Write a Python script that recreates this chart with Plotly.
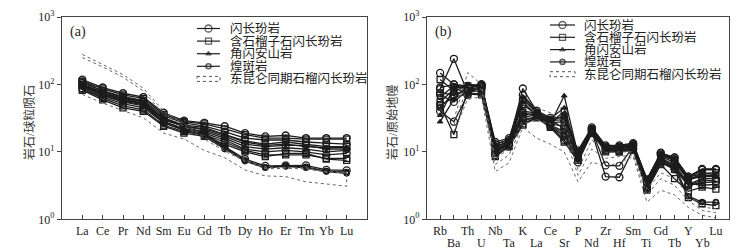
import plotly.graph_objects as go

# ---------------- data ----------------
REE = ["La", "Ce", "Pr", "Nd", "Sm", "Eu", "Gd", "Tb", "Dy", "Ho", "Er", "Tm", "Yb", "Lu"]
SPIDER = ["Rb", "Ba", "Th", "U", "Nb", "Ta", "K", "La", "Ce", "Sr", "P", "Nd",
          "Zr", "Hf", "Sm", "Ti", "Gd", "Tb", "Y", "Yb", "Lu"]

GROUPS = ["闪长玢岩", "含石榴子石闪长玢岩", "角闪安山岩", "煌斑岩"]
FIELD_NAME = "东昆仑同期石榴闪长玢岩"
YTITLE_A = "岩石/球粒陨石"
YTITLE_B = "岩石/原始地幔"

# (a) chondrite-normalised REE
REE_G1 = [
    [118, 90, 74, 65, 38, 29, 27, 24, 19, 17, 17.5, 16, 16, 16],
    [105, 80, 66, 58, 34, 27, 24, 20, 16, 15, 15, 14, 13.5, 13],
    [95, 72, 58, 52, 30, 24, 21, 17, 13, 12, 12.5, 12.5, 11, 11],
    [88, 65, 52, 45, 27, 21, 19, 15, 11, 10, 10.5, 10, 9, 9.5],
    [110, 80, 64, 56, 30, 24, 19, 12, 7.8, 6.2, 6.3, 6.3, 5.4, 5.3],
]
REE_G2 = [
    [112, 86, 70, 62, 36, 28, 26, 22, 18, 16, 16, 15.5, 15.5, 15.5],
    [100, 76, 62, 55, 32, 25, 23, 18, 14.5, 13, 14, 13, 12, 12],
    [85, 62, 48, 42, 25, 20, 18, 14, 10.5, 9, 9, 9, 8, 8],
    [82, 59, 45, 40, 24, 19, 17, 13, 10, 8.5, 9.5, 9.5, 7.8, 7.5],
]
REE_G3 = [
    [92, 68, 55, 48, 28, 22, 20, 16, 12, 11, 11.5, 11, 10, 10.5],
    [98, 74, 60, 53, 31, 24, 22, 18, 14, 12.5, 13, 12, 11.5, 11.5],
]
REE_G4 = [
    [100, 75, 60, 52, 28, 22, 18, 11.5, 7.5, 5.9, 6.2, 6.0, 5.2, 5.0],
    [95, 70, 56, 50, 27, 21, 17, 11, 7.3, 5.8, 6.1, 5.8, 5.1, 4.8],
]
REE_FIELD_UP = [279, 200, 140, 88, 40, 26, 16.7, 10.7, 7.7, 5.8, 5.9, 5.8, 5.1, 5.0]
REE_FIELD_UP2 = [250, 182, 128, 80, 36, 24, 15.5, 10.2, 7.3, 5.6, 5.7, 5.6, 5.0, 4.9]
REE_FIELD_LOW = [71, 53, 41, 32, 19, 15.5, 10.5, 8.2, 5.4, 4.4, 4.3, 3.6, 3.3, 3.1]

# (b) primitive-mantle-normalised trace elements
SP_G1 = [
    [85, 240, 75, 100, 12, 14, 87, 40, 30, 22, 10, 22, 12, 12, 13, 3.8, 9.5, 8.3, 4.3, 5.6, 5.6],
    [148, 100, 90, 95, 13, 15, 60, 38, 29, 30, 9.5, 21, 11, 11.5, 12.5, 3.5, 9, 7.5, 4, 5.4, 5.4],
    [40, 28, 70, 100, 9, 12, 30, 33, 24, 15, 7, 19, 10.5, 10.5, 11, 2.8, 7, 5.5, 3.2, 3.5, 3.6],
    [75, 70, 85, 90, 10, 13, 35, 37, 27, 28, 8, 21, 6.3, 6.2, 12, 3.0, 7.5, 6, 3.3, 4, 4],
    [70, 55, 82, 88, 10.5, 13, 32, 36, 26, 24, 8, 20, 4.3, 4.2, 11, 2.9, 7.2, 5.8, 3.2, 3.8, 3.7],
    [90, 100, 95, 98, 14, 16, 70, 41, 32, 32, 10.5, 23, 12.5, 12.5, 13.5, 3.9, 9.7, 8.2, 4.3, 5.5, 5.5],
]
SP_G2 = [
    [118, 80, 95, 92, 11, 14, 50, 36, 27, 40, 8.5, 20, 11, 11, 12, 3.2, 8.5, 7, 3.8, 4.8, 4.9],
    [50, 18, 80, 85, 8.5, 12, 25, 32, 23, 14, 7.5, 19, 10, 10, 10.5, 2.7, 6.5, 4, 2.6, 3, 2.8],
    [55, 85, 78, 80, 10, 13.5, 38, 35, 25, 20, 8.5, 20, 11, 10.5, 11.5, 3.1, 8, 6.5, 3.4, 3.2, 3.3],
    [48, 65, 72, 70, 9.5, 12.5, 26, 33, 24, 17, 7.5, 19, 10.5, 10, 11, 2.9, 7.2, 5.5, 2.1, 1.7, 1.6],
]
SP_G3 = [
    [28, 60, 100, 98, 13, 15, 55, 35, 26, 68, 9, 22, 12, 11.5, 12.5, 3.6, 8.8, 7.6, 3.9, 4.3, 4.3],
    [35, 90, 92, 95, 12, 14, 65, 39, 31, 45, 9.5, 23, 12, 12, 13, 3.7, 9.3, 7.8, 3.9, 4.5, 4.4],
]
SP_G4 = [
    [65, 95, 88, 92, 12, 14.5, 40, 38, 28, 35, 10, 22, 12, 12, 13, 4.0, 9.2, 8, 4.2, 4.8, 4.6],
    [45, 75, 75, 72, 11, 13, 28, 34, 25, 18, 8, 20, 11.5, 11, 12, 3.2, 7.8, 6.2, 2.2, 1.8, 1.8],
]
SP_FIELD = [
    [None, 30, 150, 100, 8, 11, 30, 45, 38, 28, 5.4, 15, 9.7, 10, 10, 2.8, 4.9, 4.0, 2.3, 1.5, 1.45],
    [None, 25, 95, 85, 6.5, 9, 26, 30, 26, 18, 4.5, 11, 8, 8.5, 9, 2.3, 4.0, 3.2, 1.9, 1.35, 1.25],
    [None, 20, 60, 66, 5.1, 6.9, 23, 16, 13, 10, 3.6, 7.1, 6, 7, 8.5, 1.8, 2.7, 2.3, 1.5, 1.15, 1.05],
]

# ---------------- styles ----------------
W, H = 753, 252
INK = "#1c1c1c"
AXC = "#444444"
LAT = "Liberation Serif, Times New Roman, serif"
CJK = "Liberation Serif, Noto Sans CJK SC, serif"
STYLES = [
    dict(symbol="circle-open", size=7, line=dict(width=1.3, color=INK), color=INK),
    dict(symbol="square-open", size=6, line=dict(width=1.3, color=INK), color=INK),
    dict(symbol="triangle-up", size=5, line=dict(width=1, color=INK), color=INK),
    dict(symbol="circle-open", size=5, line=dict(width=1.6, color=INK), color=INK),
]
FIELD_LINE = dict(color="#666666", width=1, dash="dot")

fig = go.Figure()

# (a)
for gi, grp in enumerate([REE_G1, REE_G2, REE_G3, REE_G4]):
    for vals in grp:
        fig.add_trace(go.Scatter(x=REE, y=vals, mode="lines+markers", xaxis="x", yaxis="y",
                                 line=dict(color=INK, width=1.3), marker=STYLES[gi],
                                 showlegend=False, hoverinfo="skip"))
fig.add_trace(go.Scatter(x=REE + REE[::-1], y=REE_FIELD_UP + REE_FIELD_LOW[::-1], mode="lines",
                         xaxis="x", yaxis="y", line=FIELD_LINE, showlegend=False, hoverinfo="skip"))
fig.add_trace(go.Scatter(x=REE, y=REE_FIELD_UP2, mode="lines", xaxis="x", yaxis="y",
                         line=FIELD_LINE, showlegend=False, hoverinfo="skip"))

# (b)
for gi, grp in enumerate([SP_G1, SP_G2, SP_G3, SP_G4]):
    for vals in grp:
        fig.add_trace(go.Scatter(x=SPIDER, y=vals, mode="lines+markers", xaxis="x2", yaxis="y2",
                                 line=dict(color=INK, width=1.3), marker=STYLES[gi],
                                 showlegend=False, hoverinfo="skip"))
for vals in SP_FIELD:
    fig.add_trace(go.Scatter(x=SPIDER, y=vals, mode="lines", xaxis="x2", yaxis="y2",
                             line=FIELD_LINE, showlegend=False, hoverinfo="skip"))

# ---------------- manual legends (pixel overlay) ----------------
LEGENDS = [  # key x0, key x1, text x, first row y, row step
    (197, 220, 228, 28.5, 12.6),
    (550, 575, 582, 25.0, 12.3),
]
annotations = []
shapes = []
for (kx0, kx1, tx, y0, dy) in LEGENDS:
    for gi, name in enumerate(GROUPS):
        yy = y0 + gi * dy
        ms = dict(STYLES[gi])
        ms["size"] = [0, ms["size"], 0]
        fig.add_trace(go.Scatter(x=[kx0, (kx0 + kx1) / 2, kx1], y=[yy] * 3, mode="lines+markers",
                                 xaxis="x3", yaxis="y3", line=dict(color=INK, width=1.2),
                                 marker=ms, showlegend=False, hoverinfo="skip"))
        annotations.append(dict(x=tx, y=yy, xref="x3", yref="y3", text=name, showarrow=False,
                                xanchor="left", yanchor="middle",
                                font=dict(family=CJK, size=12.5, color="#222")))
    yy = y0 + 4 * dy
    shapes.append(dict(type="rect", xref="x3", yref="y3", x0=kx0, x1=kx1, y0=yy - 2.5, y1=yy + 2.5,
                       line=dict(color="#555", width=1, dash="dot")))
    annotations.append(dict(x=tx, y=yy, xref="x3", yref="y3", text=FIELD_NAME, showarrow=False,
                            xanchor="left", yanchor="middle",
                            font=dict(family=CJK, size=12.5, color="#222")))

# second row of staggered element labels in (b)
for i, n in enumerate(SPIDER):
    if i % 2 == 1:
        annotations.append(dict(x=n, y=242.5, xref="x2", yref="y3", text=n, showarrow=False,
                                xanchor="center", yanchor="middle",
                                font=dict(family=LAT, size=12, color="#222")))

# panel labels & y titles
annotations += [
    dict(x=68, y=32, xref="x3", yref="y3", text="(a)", showarrow=False, xanchor="left",
         yanchor="middle", font=dict(family=LAT, size=14, color="#222")),
    dict(x=433, y=32, xref="x3", yref="y3", text="(b)", showarrow=False, xanchor="left",
         yanchor="middle", font=dict(family=LAT, size=14, color="#222")),
    dict(x=29, y=123, xref="x3", yref="y3", text=YTITLE_A, showarrow=False, textangle=-90,
         font=dict(family=CJK, size=12, color="#333")),
    dict(x=392, y=123, xref="x3", yref="y3", text=YTITLE_B, showarrow=False, textangle=-90,
         font=dict(family=CJK, size=12, color="#333")),
]

ydom = [1 - 219.3 / H, 1 - 17 / H]
yvals = [1, 10, 100, 1000]
ytext = ["10<sup>0</sup>", "10<sup>1</sup>", "10<sup>2</sup>", "10<sup>3</sup>"]
common_x = dict(type="category", showline=True, mirror=True, linecolor=AXC, linewidth=1.3,
                ticks="inside", ticklen=4, tickcolor=AXC, showgrid=False, zeroline=False,
                tickfont=dict(family=LAT, size=12, color="#222"), automargin=False,
                tickmode="array", tickangle=0, fixedrange=True)
common_y = dict(type="log", range=[0, 3], domain=ydom, showline=True, mirror=True, linecolor=AXC,
                linewidth=1.3, ticks="outside", ticklen=4, tickcolor=AXC, showgrid=False,
                zeroline=False, tickvals=yvals, ticktext=ytext,
                tickfont=dict(family=LAT, size=12, color="#222"), automargin=False, fixedrange=True)

fig.update_layout(
    width=W, height=H, margin=dict(l=0, r=0, t=0, b=0),
    paper_bgcolor="white", plot_bgcolor="rgba(0,0,0,0)",
    xaxis=dict(common_x, domain=[62 / W, 367 / W], anchor="y", range=[-1, 14],
               tickvals=REE, ticktext=REE),
    yaxis=dict(common_y, anchor="x"),
    xaxis2=dict(common_x, domain=[427 / W, 729 / W], anchor="y2", range=[-0.95, 20.95],
                tickvals=SPIDER,
                ticktext=[n if i % 2 == 0 else "" for i, n in enumerate(SPIDER)]),
    yaxis2=dict(common_y, anchor="x2"),
    xaxis3=dict(domain=[0, 1], range=[0, W], anchor="y3", visible=False, fixedrange=True),
    yaxis3=dict(domain=[0, 1], range=[H, 0], anchor="x3", visible=False, fixedrange=True),
    annotations=annotations, shapes=shapes, showlegend=False,
)

fig.write_html("out.html", config={"displayModeBar": False},
               post_script="document.body.style.margin='0';document.body.style.overflow='hidden';")
